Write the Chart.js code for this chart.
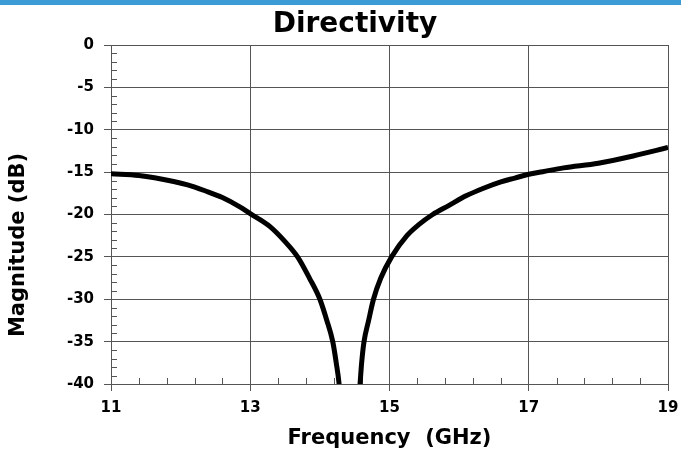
<!DOCTYPE html>
<html>
<head>
<meta charset="utf-8">
<script src="https://cdn.jsdelivr.net/npm/chart.js"></script>
<style>
  html, body { margin: 0; padding: 0; background: #fff; }
  #wrap { width: 681px; height: 460px; }
</style>
</head>
<body>
<div id="wrap"><canvas id="myChart" width="681" height="460"></canvas></div>
<script>
// values
const freqGHz = [11.0, 11.4, 11.9, 12.1, 12.35, 12.6, 12.85, 13.0, 13.28, 13.5, 13.68, 13.85, 14.0, 14.1, 14.185, 14.235, 14.276, 14.32,
                 14.53, 14.577, 14.6, 14.634, 14.7, 14.77, 14.875, 15.03, 15.25, 15.42, 15.62, 15.85, 16.1, 16.35, 16.6, 16.8, 17.0, 17.2, 17.5, 18.0, 18.5, 19.0];
const magDb = [-15.2, -15.4, -16.1, -16.5, -17.2, -18.0, -19.1, -19.9, -21.4, -23.2, -25.0, -27.5, -30.0, -32.5, -35.0, -37.5, -40.0, -45.0,
               -45.0, -40.0, -37.5, -35.0, -32.5, -30.0, -27.5, -25.0, -22.5, -21.2, -20.0, -18.95, -17.8, -16.9, -16.15, -15.7, -15.25, -14.95, -14.5, -13.95, -13.1, -12.1];
const xTicks = [11, 13, 15, 17, 19];
const yTicks = [0, -5, -10, -15, -20, -25, -30, -35, -40];
const chartTitle = "Directivity";
const xTitle = "Frequency  (GHz)";
const yTitle = "Magnitude (dB)";

const FONT = "'DejaVu Sans', sans-serif";
const GRID = "#555";

var decor = {
  id: "decor",
  beforeDraw: function(chart) {
    var ctx = chart.ctx;
    ctx.save();
    ctx.fillStyle = "#3b9bd5";
    ctx.fillRect(0, 0, chart.width, 5);
    ctx.restore();
  },
  beforeDatasetsDraw: function(chart) {
    // minor tick marks inside the plot
    var ctx = chart.ctx, a = chart.chartArea;
    var xs = chart.scales.x, ys = chart.scales.y;
    ctx.save();
    ctx.strokeStyle = GRID;
    ctx.lineWidth = 1;
    ctx.beginPath();
    for (var v = -39; v < 0; v++) {
      if (v % 5 === 0) continue;
      var py = Math.round(ys.getPixelForValue(v)) + 0.5;
      ctx.moveTo(a.left, py);
      ctx.lineTo(a.left + 6, py);
    }
    for (var k = 1; k < 20; k++) {
      if (k % 5 === 0) continue;
      var px = Math.round(xs.getPixelForValue(11 + k * 0.4)) + 0.5;
      ctx.moveTo(px, a.bottom);
      ctx.lineTo(px, a.bottom - 6);
    }
    ctx.stroke();
    ctx.restore();
  },
  afterDraw: function(chart) {
    var ctx = chart.ctx;
    ctx.save();
    ctx.fillStyle = "#000";
    ctx.textAlign = "center";
    ctx.font = "bold 28px " + FONT;
    ctx.textBaseline = "alphabetic";
    ctx.fillText(chartTitle, 355, 32);
    ctx.translate(19, 245);
    ctx.rotate(-Math.PI / 2);
    ctx.font = "bold 21px " + FONT;
    ctx.textBaseline = "middle";
    ctx.fillText(yTitle, 0, 0);
    ctx.restore();
  }
};

new Chart("myChart", {
  type: "line",
  data: {
    datasets: [{
      data: freqGHz.map(function(f, i) { return { x: f, y: magDb[i] }; }),
      borderColor: "#000",
      borderWidth: 5,
      pointRadius: 0,
      cubicInterpolationMode: "monotone",
      fill: false,
      clip: 0
    }]
  },
  options: {
    responsive: false,
    animation: false,
    devicePixelRatio: 1,
    layout: { padding: { left: 0, right: 0, top: 45, bottom: 0 } },
    plugins: {
      legend: { display: false },
      tooltip: { enabled: false },
      title: { display: false }
    },
    scales: {
      x: {
        type: "linear",
        min: 11,
        max: 19,
        afterBuildTicks: function(s) { s.ticks = xTicks.map(function(v) { return { value: v }; }); },
        afterFit: function(s) { s.height = 76; s.paddingRight = 13; },
        grid: { color: GRID, lineWidth: 1, tickLength: 7, tickColor: GRID },
        border: { color: GRID, width: 1 },
        ticks: { color: "#000", font: { family: FONT, size: 15, weight: "bold" }, padding: 8, maxRotation: 0 },
        title: {
          display: true,
          text: xTitle,
          color: "#000",
          font: { family: FONT, size: 21, weight: "bold" },
          padding: { top: 0, bottom: 9 }
        }
      },
      y: {
        min: -40,
        max: 0,
        afterBuildTicks: function(s) { s.ticks = yTicks.map(function(v) { return { value: v }; }); },
        afterFit: function(s) { s.width = 111; },
        grid: { color: GRID, lineWidth: 1, tickLength: 7, tickColor: GRID },
        border: { color: GRID, width: 1 },
        ticks: { color: "#000", font: { family: FONT, size: 15, weight: "bold" }, padding: 10 }
      }
    }
  },
  plugins: [decor]
});
</script>
</body>
</html>
